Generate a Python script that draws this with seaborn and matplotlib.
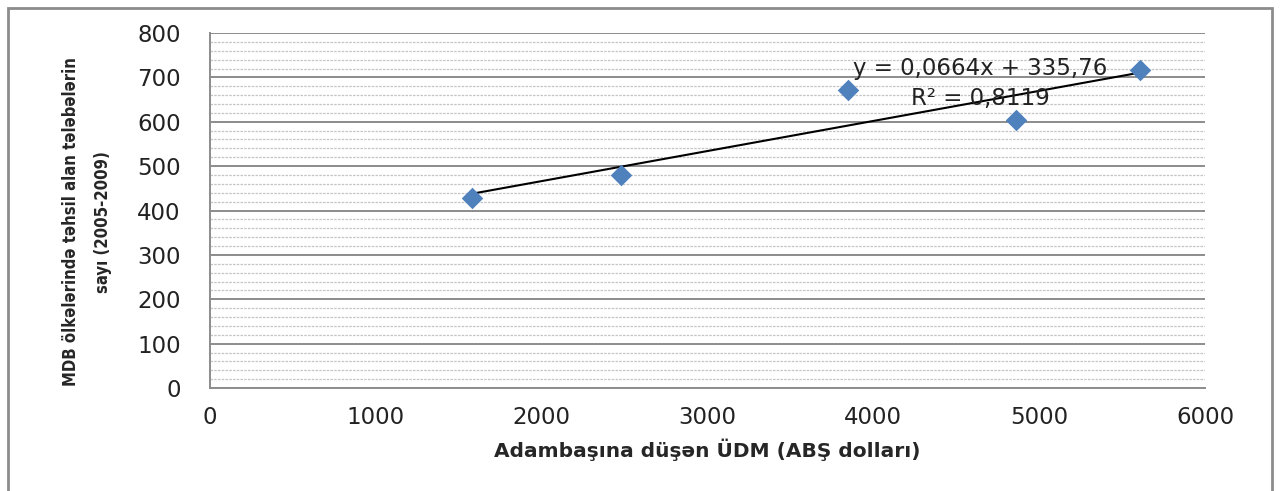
import numpy as np
import pandas as pd
import seaborn as sns
import matplotlib.pyplot as plt
from matplotlib.patches import Rectangle
from matplotlib.ticker import MultipleLocator

# data
gdp = [1580, 2479, 3848, 4861, 5609]
students = [428, 480, 671, 604, 716]
df = pd.DataFrame({'gdp': gdp, 'students': students})

x_ticks = [0, 1000, 2000, 3000, 4000, 5000, 6000]
y_ticks = [0, 100, 200, 300, 400, 500, 600, 700, 800]
eq_text = 'y = 0,0664x + 335,76'
r2_text = 'R² = 0,8119'

sns.set_style('white')
plt.rcParams['font.family'] = ['DejaVu Sans']

fig = plt.figure(figsize=(12.81, 4.91), dpi=100)
ax = fig.add_axes([210/1281, 1 - 388/491, 995/1281, 355/491])

sns.regplot(data=df, x='gdp', y='students', ax=ax, ci=None, truncate=True,
            marker='D', scatter_kws={'s': 120, 'color': '#4F81BD', 'alpha': 1, 'zorder': 4, 'linewidths': 0},
            line_kws={'color': 'black', 'linewidth': 1.5, 'zorder': 3})

ax.set_xlim(0, 6000)
ax.set_ylim(0, 800)
ax.set_xticks(x_ticks)
ax.set_yticks(y_ticks)
ax.yaxis.set_minor_locator(MultipleLocator(20))
ax.grid(axis='y', which='major', color='#8c8c8c', linewidth=1.4)
ax.grid(axis='y', which='minor', color='#c4c4c4', linewidth=0.9, linestyle=(0, (2, 1)))
ax.set_axisbelow(True)

for s in ['top', 'right']:
    ax.spines[s].set_visible(False)
for s in ['left', 'bottom']:
    ax.spines[s].set_color('#8c8c8c')
    ax.spines[s].set_linewidth(1.4)

ax.tick_params(axis='both', which='major', direction='out', length=7, width=1.4,
               color='#8c8c8c', labelsize=16.5, labelcolor='#222222', pad=6)
ax.tick_params(axis='y', which='major', pad=14)
ax.tick_params(axis='y', which='minor', length=0)

ax.set_xlabel('Adambaşına düşən ÜDM (ABŞ dolları)', fontsize=14.5, fontweight='bold', labelpad=7)
ax.set_ylabel('MDB ölkələrində təhsil alan tələbələrin\nsayı (2005-2009)', fontsize=12,
              fontweight='bold', fontstretch='condensed', linespacing=2.0)
ax.yaxis.set_label_coords(-0.098, 0.468)

ax.text(0.774, 0.90, eq_text, transform=ax.transAxes, ha='center', va='center',
        fontsize=16.5, color='#222222')
ax.text(0.774, 0.815, r2_text, transform=ax.transAxes, ha='center', va='center',
        fontsize=16.5, color='#222222')

# outer chart frame
fig.patches.append(Rectangle((8/1281, -0.1), 1264/1281, 1.1 - 8/491, transform=fig.transFigure,
                             fill=False, edgecolor='#8c8c8c', linewidth=2))

fig.savefig('out.png', dpi=100)
